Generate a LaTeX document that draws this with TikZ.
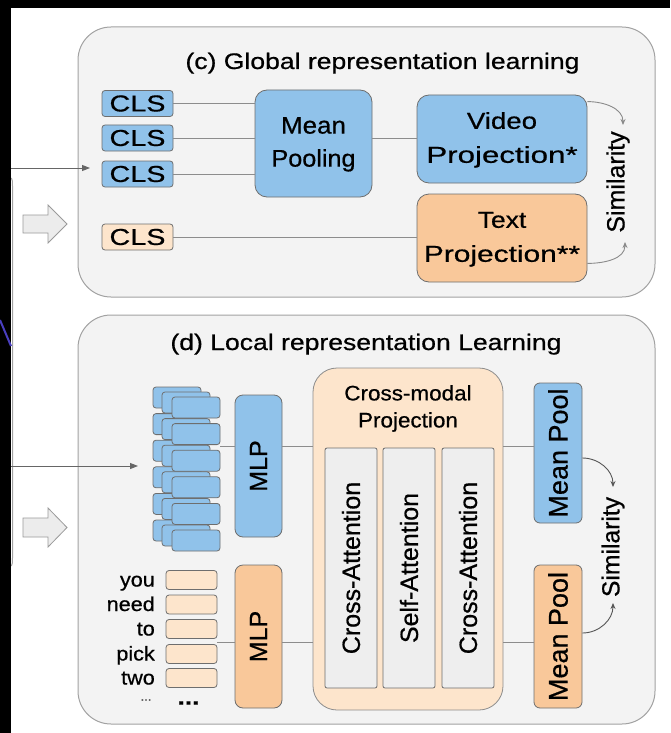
\documentclass[tikz,border=0pt]{standalone}
\usepackage{fontspec}
\setmainfont[FakeBold=0.6]{Liberation Sans}
\usetikzlibrary{arrows.meta}

\definecolor{panelfill}{HTML}{F3F3F3}
\definecolor{panelline}{HTML}{A2A2A2}
\definecolor{bluefill}{HTML}{90C2EA}
\definecolor{orangefill}{HTML}{F9C89A}
\definecolor{peachfill}{HTML}{FDE5CC}
\definecolor{colfill}{HTML}{EEEEEE}
\definecolor{boxline}{HTML}{6E6E6E}
\definecolor{linkgray}{HTML}{8C8C8C}
\definecolor{arrowgray}{HTML}{666666}
\definecolor{simgray}{HTML}{8A8A8A}
\definecolor{simdark}{HTML}{555555}
\definecolor{blockfill}{HTML}{ECECEC}
\definecolor{blockline}{HTML}{9A9A9A}
\definecolor{edgepurple}{HTML}{4A3FC0}

% font size helper and horizontal stretch helpers
\newcommand\fs[1]{\fontsize{#1}{#1}\selectfont}
\newcommand\wide[2]{\scalebox{#1}[1]{#2}}
\newcommand\stack[4]{\begin{tabular}{@{}c@{}}\scalebox{#1}[1]{#2}\\\scalebox{#3}[1]{#4}\end{tabular}}

\tikzset{
  panel/.style={draw=panelline, fill=panelfill, line width=1pt, rounded corners=33pt, inner sep=0pt},
  box/.style={draw=boxline, line width=0.8pt, inner sep=0pt, text=black},
  bluebox/.style={box, fill=bluefill},
  orangebox/.style={box, fill=orangefill},
  peachbox/.style={box, fill=peachfill},
  colbox/.style={box, fill=colfill, rounded corners=2pt, minimum width=52, minimum height=240, font=\fs{25}},
  clsbox/.style={box, rounded corners=3pt, minimum width=71, minimum height=26, font=\fs{23}},
  framebox/.style={bluebox, rounded corners=3pt, minimum width=48, minimum height=21},
  tokbox/.style={peachbox, rounded corners=3pt, minimum width=51, minimum height=19},
  word/.style={anchor=base east, inner sep=0pt, font=\fs{20}},
  link/.style={draw=linkgray, line width=0.9pt},
  simarrow/.style={draw=simgray, line width=0.9pt, -{Stealth[length=6pt,width=5pt]}},
  simarrowdark/.style={draw=simdark, line width=0.9pt, -{Stealth[length=6pt,width=5pt]}},
  inarrow/.style={draw=arrowgray, line width=1pt, -{Triangle[length=8pt,width=6pt]}},
  blockarrow/.style={fill=blockfill, draw=blockline, line width=0.8pt},
}

\begin{document}
\begin{tikzpicture}[x=1pt, y=-1pt]
\useasboundingbox (0,0) rectangle (670,733);

% page background with the dark margins
\fill[black] (0,0) rectangle (670,733);
\fill[white] (11,8) rectangle (670,733);
\draw[panelline, line width=1pt] (6,176) .. controls (12.5,178) .. (12.5,186) -- (12.5,558) .. controls (12.5,566) .. (6,568);
\fill[black] (0,0) rectangle (11,733);
\draw[edgepurple, line width=2pt] (0,320) -- (11,346);

% hollow block arrows at the left
\path[blockarrow] (23,215) -- (48,215) -- (48,205) -- (67,224) -- (48,243) -- (48,233) -- (23,233) -- cycle;
\path[blockarrow] (23,518) -- (48,518) -- (48,508) -- (67,527.5) -- (48,547) -- (48,537) -- (23,537) -- cycle;

% ---------------- (c) global representation learning ----------------
\node[panel, minimum width=577, minimum height=270] (pc) at (366.5,162) {};
\node[anchor=base, inner sep=0pt, font=\fs{22.5}] (tc) at (382.5,69) {\wide{1.18}{(c) Global representation learning}};

\node[clsbox, fill=bluefill] (cls1) at (137.5,103.5) {\wide{1.25}{CLS}};
\node[clsbox, fill=bluefill] (cls2) at (137.5,138) {\wide{1.25}{CLS}};
\node[clsbox, fill=bluefill] (cls3) at (137.5,174) {\wide{1.25}{CLS}};
\node[clsbox, fill=peachfill] (clso) at (137.5,237) {\wide{1.25}{CLS}};

\node[bluebox, rounded corners=12pt, minimum width=117, minimum height=107,
      font=\fontsize{24}{33}\selectfont] (mp) at (313.5,143.5) {\stack{1.08}{Mean}{1.05}{Pooling}};
\node[bluebox, rounded corners=12pt, minimum width=170, minimum height=88,
      font=\fontsize{23}{34}\selectfont] (vp) at (502,139) {\stack{1.2}{Video}{1.36}{Projection*}};
\node[orangebox, rounded corners=12pt, minimum width=170, minimum height=88,
      font=\fontsize{23}{34}\selectfont] (tp) at (502,238) {\stack{1.15}{Text}{1.3}{Projection**}};
\node[inner sep=0pt, font=\fs{25}] (simc) at (618,182) {\rotatebox{90}{Similarity}};

\draw[link] (cls1.east) -- (mp.west |- cls1);
\draw[link] (cls2.east) -- (mp.west |- cls2);
\draw[link] (cls3.east) -- (mp.west |- cls3);
\draw[link] (mp.east |- cls2) -- (vp.west |- cls2);
\draw[link] (clso.east) -- (tp.west |- clso);

\coordinate (sc1) at (623,125);
\coordinate (sc2) at (625,242);
\draw[simarrow] ([yshift=-7pt]vp.north east) to[out=0, in=90] (sc1);
\draw[simarrow] ([yshift=19pt]tp.south east) to[out=0, in=-90] (sc2);

\coordinate (in1) at (11,168);
\coordinate (in1e) at (90,168);
\draw[inarrow] (in1) -- (in1e);

% ---------------- (d) local representation learning ----------------
\node[panel, minimum width=577, minimum height=409] (pd) at (366.5,519.5) {};
\node[anchor=base, inner sep=0pt, font=\fs{22.5}] (td) at (366,350) {\wide{1.18}{(d) Local representation Learning}};

% stacked frame features: back, middle and front layers
\foreach \k in {0,...,5} \node[framebox] (fb\k) at (177,397.5+26.6*\k) {};
\foreach \k in {0,...,5} \node[framebox] (fm\k) at (186,402.5+26.6*\k) {};
\foreach \k in {0,...,5} \node[framebox] (ff\k) at (196,407.5+26.6*\k) {};

% word tokens
\foreach \y/\w [count=\i] in {580/you, 604.5/need, 629/to, 654/pick, 678/two} {
  \node[tokbox] (tok\i) at (191.5,\y) {};
  \node[word] (w\i) at (155,\y+6.5) {\wide{1.08}{\w}};
}
\node[inner sep=0pt, font=\fs{13}, text=black!80] (wdots) at (146,700) {...};
\node[inner sep=0pt, font=\bfseries\fs{22}] (tdots) at (188.5,703) {\wide{1.2}{...}};

\node[bluebox, rounded corners=8pt, minimum width=47, minimum height=142, font=\fs{25}] (mlpv) at (258.5,466) {\rotatebox{90}{MLP}};
\node[orangebox, rounded corners=8pt, minimum width=47, minimum height=143, font=\fs{25}] (mlpo) at (258.5,636.5) {\rotatebox{90}{MLP}};

% cross-modal projection block
\node[peachbox, draw=linkgray, rounded corners=24pt, minimum width=190, minimum height=342] (cm) at (408,539) {};
\node[inner sep=0pt, font=\fontsize{21}{27}\selectfont] (cmt) at (408,408.5) {\stack{1.07}{Cross-modal}{1.07}{Projection}};
\node[colbox] (ca1) at (351,568) {\rotatebox{90}{Cross-Attention}};
\node[colbox] (sa) at (409,568) {\rotatebox{90}{Self-Attention}};
\node[colbox] (ca2) at (468,568) {\rotatebox{90}{Cross-Attention}};

\node[bluebox, rounded corners=6pt, minimum width=48, minimum height=140, font=\fs{27}] (mpv) at (558,453) {\rotatebox{90}{Mean Pool}};
\node[orangebox, rounded corners=6pt, minimum width=48, minimum height=143, font=\fs{27}] (mpo) at (558,636.5) {\rotatebox{90}{Mean Pool}};
\node[inner sep=0pt, font=\fs{24.7}] (simd) at (613,547) {\rotatebox{90}{Similarity}};

\coordinate (vrow) at (0,446);
\coordinate (trow) at (0,642);
\draw[link] (ff1.east |- vrow) -- (mlpv.west |- vrow);
\draw[link] (mlpv.east |- vrow) -- (cm.west |- vrow);
\draw[link] (cm.east |- vrow) -- (mpv.west |- vrow);
\draw[link] (tok3.east |- trow) -- (mlpo.west |- trow);
\draw[link] (mlpo.east |- trow) -- (cm.west |- trow);
\draw[link] (cm.east |- trow) -- (mpo.west |- trow);

\coordinate (sd1) at (613,487);
\coordinate (sd2) at (613,603);
\draw[simarrowdark] ([yshift=-5pt]mpv.east) to[out=0, in=90] (sd1);
\draw[simarrowdark] ([yshift=3.5pt]mpo.east) to[out=0, in=-90] (sd2);

\coordinate (in2) at (11,466);
\coordinate (in2e) at (138,466);
\draw[inarrow] (in2) -- (in2e);
\end{tikzpicture}
\end{document}
